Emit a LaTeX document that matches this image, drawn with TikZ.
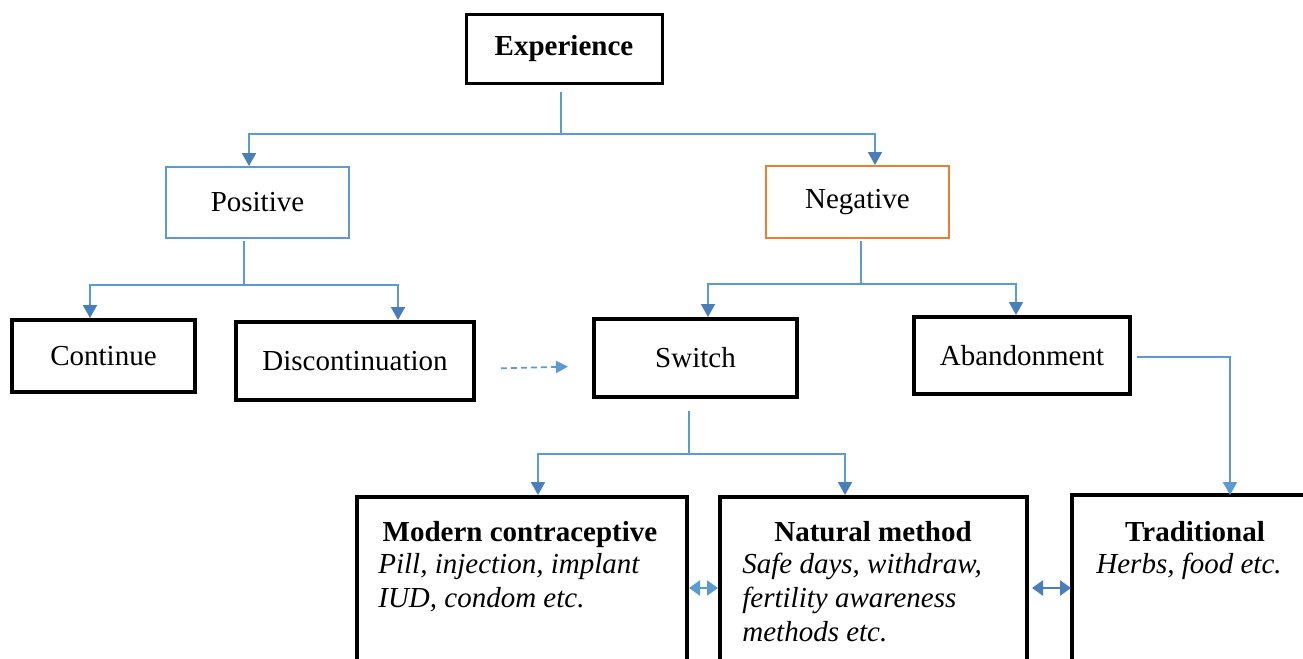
\documentclass[tikz,border=0pt]{standalone}
\usepackage{fontspec}
\setmainfont{Liberation Serif}
\usetikzlibrary{arrows.meta}
\definecolor{LinkBlue}{HTML}{5B9BD5}
\definecolor{TipBlue}{HTML}{4A7EBB}
\definecolor{NegOrange}{HTML}{ED7D31}

\begin{document}
\begin{tikzpicture}[x=0.5pt,y=-0.5pt,
  stepbox/.style={draw,line width=2pt,inner sep=0pt,font=\fontsize{14.5}{17}\selectfont},
  headtxt/.style={inner sep=0pt,anchor=base,font=\fontsize{14.5}{17}\selectfont\bfseries},
  listtxt/.style={inner sep=0pt,anchor=north west,align=left,font=\fontsize{14.5}{17}\selectfont\itshape},
  link/.style={LinkBlue,line width=0.9pt},
  arr/.style={link,-{Triangle[length=6.5pt,width=7pt,color=TipBlue]}},
  duo/.style={link,line width=1.2pt,{Triangle[length=5.5pt,width=7.5pt]}-{Triangle[length=5.5pt,width=7.5pt]}}]
  \useasboundingbox (0,0) rectangle (1303,659);

  \node[stepbox,line width=1.5pt,minimum width=98pt,minimum height=34.5pt,font=\fontsize{14.5}{17}\selectfont\bfseries] (exp) at (564,48.5) {Experience};
  \node[stepbox,draw=LinkBlue,line width=1pt,minimum width=91.5pt,minimum height=35.5pt] (pos) at (257.5,202.5) {Positive};
  \node[stepbox,draw=NegOrange,line width=1pt,minimum width=91.5pt,minimum height=36pt] (neg) at (857.5,202) {Negative};
  \node[stepbox,minimum width=91.5pt,minimum height=36pt] (cont) at (103.5,356) {Continue};
  \node[stepbox,minimum width=119pt,minimum height=39pt] (disc) at (355,361) {Discontinuation};
  \node[stepbox,minimum width=101.5pt,minimum height=39pt] (swi) at (695.5,358) {Switch};
  \node[stepbox,minimum width=108pt,minimum height=38.5pt] (aband) at (1022,355.5) {Abandonment};
  \node[stepbox,anchor=north west,minimum width=165pt,minimum height=110pt] (modern) at (355,495) {};
  \node[stepbox,anchor=north west,minimum width=153.5pt,minimum height=110pt] (natural) at (718,495) {};
  \node[stepbox,draw=none,anchor=north west,minimum width=160pt,minimum height=110pt] (trad) at (1072,495) {};
  \draw[line width=2pt] (trad.south west) -- (trad.north west) -- (trad.north east);

  \node[headtxt] (modernhd) at (520,541) {Modern contraceptive};
  \node[listtxt] (modernlst) at (378,553) {Pill, injection, implant\\IUD, condom etc.};
  \node[headtxt] (naturalhd) at (873,541) {Natural method};
  \node[listtxt] (naturallst) at (742,553) {Safe days, withdraw,\\fertility awareness\\methods etc.};
  \node[headtxt] (tradhd) at (1195,541) {Traditional};
  \node[listtxt] (tradlst) at (1096,553) {Herbs, food etc.};

  \coordinate (expfork) at (561,134);
  \draw[link,shorten <=3.5pt] (exp.south -| expfork) -- (expfork);
  \draw[arr] (expfork) -| ([xshift=-4.25pt]pos.north);
  \draw[arr] (expfork) -| ([xshift=8.75pt]neg.north);

  \coordinate (posfork) at (244,285);
  \draw[link,shorten <=1pt] (pos.south -| posfork) -- (posfork);
  \draw[arr] (posfork) -| ([xshift=-6.75pt]cont.north);
  \draw[arr] (posfork) -| ([xshift=21.5pt]disc.north);

  \coordinate (negfork) at (861,284);
  \draw[link,shorten <=1pt] (neg.south -| negfork) -- (negfork);
  \draw[arr] (negfork) -| ([xshift=6.25pt]swi.north);
  \draw[arr] (negfork) -| ([xshift=-3pt]aband.north);

  \coordinate (swifork) at (689,454);
  \draw[link,shorten <=6pt] (swi.south -| swifork) -- (swifork);
  \draw[arr] (swifork) -| ([xshift=8pt]modern.north);
  \draw[arr] (swifork) -| ([xshift=63.5pt]natural.north west);

  \draw[link,-{Triangle[length=6.5pt,width=7pt]},shorten <=2.5pt] ([yshift=-0.75pt]aband.east) -| ([xshift=79pt]trad.north west);
  \draw[link,dash pattern=on 3pt off 2pt,-{Triangle[length=6pt,width=6pt]},shorten <=12.5pt,shorten >=12pt] ([yshift=-4pt]disc.east) -- ([yshift=-4pt]swi.west);

  \draw[duo] ([yshift=-46.5pt]modern.north east) -- ([yshift=-46.5pt]natural.north west);
  \draw[duo,TipBlue,shorten <=1.5pt,shorten >=0.5pt] ([yshift=-46.5pt]natural.north east) -- ([yshift=-46.5pt]trad.north west);
\end{tikzpicture}
\end{document}
